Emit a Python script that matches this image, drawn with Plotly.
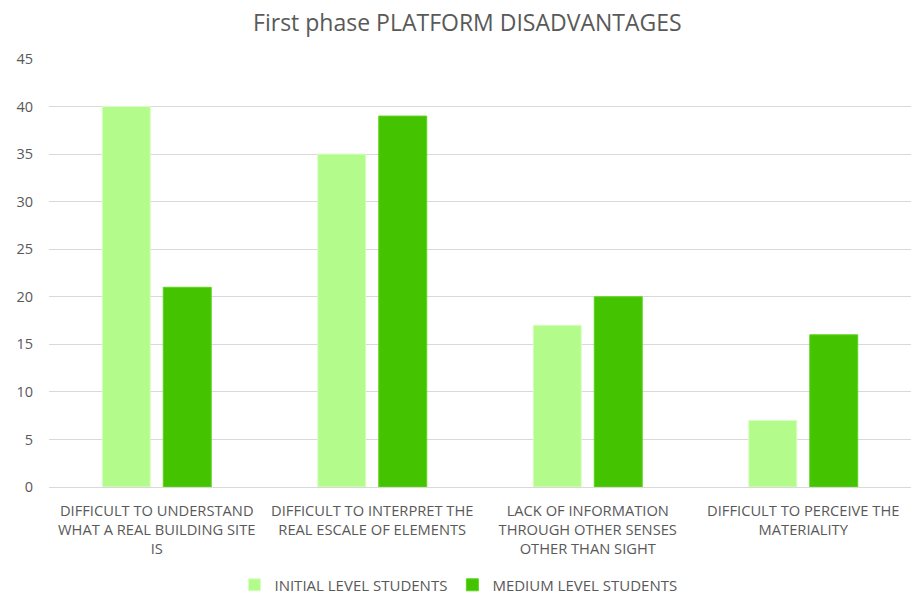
import plotly.graph_objects as go

categories = [
    "DIFFICULT TO UNDERSTAND<br>WHAT A REAL BUILDING SITE<br>IS",
    "DIFFICULT TO INTERPRET THE<br>REAL ESCALE OF ELEMENTS",
    "LACK OF INFORMATION<br>THROUGH OTHER SENSES<br>OTHER THAN SIGHT",
    "DIFFICULT TO PERCEIVE THE<br>MATERIALITY",
]
initial_students = [40, 35, 17, 7]
medium_students = [21, 39, 20, 16]
y_ticks = [0, 5, 10, 15, 20, 25, 30, 35, 40, 45]

FONT = "Open Sans"
GREY = "#595959"

fig = go.Figure()
fig.add_trace(go.Bar(x=categories, y=initial_students, name="INITIAL LEVEL STUDENTS",
                     marker=dict(color="#B3FC8B", line=dict(color="#D8FEC4", width=1))))
fig.add_trace(go.Bar(x=categories, y=medium_students, name="MEDIUM LEVEL STUDENTS",
                     marker=dict(color="#44C400", line=dict(color="#5ED41C", width=1))))

fig.update_layout(
    width=911, height=597,
    margin=dict(l=49, r=0, t=59, b=110),
    paper_bgcolor="white", plot_bgcolor="white",
    title=dict(text="First phase PLATFORM DISADVANTAGES", x=0.513, xanchor="center",
               y=0.962, yanchor="middle",
               font=dict(family=FONT, size=23, color=GREY)),
    barmode="group", bargap=0.434, bargroupgap=0.213,
    font=dict(family=FONT, size=14.7, color=GREY),
    xaxis=dict(showgrid=False, showline=False, ticks="", tickfont=dict(size=14.7, color=GREY),
               tickangle=0, automargin=False, ticklabelstandoff=13),
    yaxis=dict(range=[0, 45], tickvals=y_ticks, showgrid=True, gridcolor="#D9D9D9",
               gridwidth=1, zeroline=True, zerolinecolor="#D9D9D9", zerolinewidth=1,
               ticks="", ticklabelstandoff=15, automargin=False,
               tickfont=dict(size=14.5, color=GREY)),
    legend=dict(orientation="h", x=0.475, xanchor="center", xref="paper",
                y=0.02, yanchor="middle", yref="container",
                font=dict(size=15, color=GREY), traceorder="normal", itemwidth=30),
    showlegend=True,
)

fig.write_html("out.html", post_script="document.body.style.margin='0';",
               config={"displayModeBar": False})
